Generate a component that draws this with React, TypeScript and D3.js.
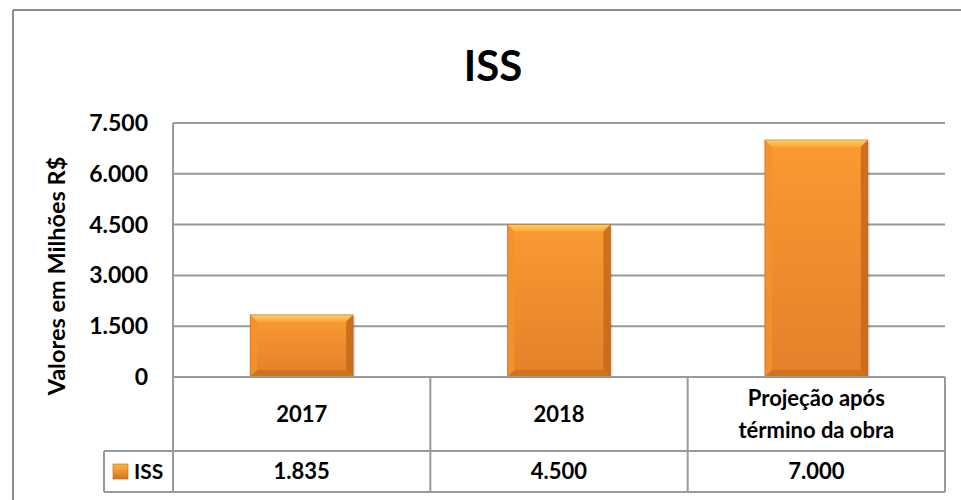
import React from "react";
import * as d3 from "d3";

const categories: string[][] = [["2017"], ["2018"], ["Projeção após", "término da obra"]];
const values: number[] = [1835, 4500, 7000];
const valueLabels: string[] = ["1.835", "4.500", "7.000"];
const yTicks: number[] = [0, 1500, 3000, 4500, 6000, 7500];
const tickLabels: string[] = ["0", "1.500", "3.000", "4.500", "6.000", "7.500"];
const seriesName = "ISS";
const title = "ISS";
const yTitle = "Valores em Milhões R$";

const W = 961;
const H = 500;
const plotLeft = 173;
const plotRight = 945;
const plotTop = 123;
const plotBottom = 377;
const rowDiv = 451;
const tableBottom = 492;
const legendLeft = 104;
const lineColor = "#999999";
const FONT = "Lato, 'Open Sans', sans-serif";

export default function App() {
  const x = d3
    .scaleBand<number>()
    .domain(d3.range(categories.length))
    .range([plotLeft, plotRight])
    .paddingInner(0.6)
    .paddingOuter(0.3);
  const y = d3.scaleLinear().domain([0, 7500]).range([plotBottom, plotTop]);
  const step = x.step();
  const boundaries = d3.range(categories.length + 1).map((i) => plotLeft + i * step);
  const bev = 7;

  return (
    <svg width={W} height={H} style={{ position: "absolute", left: 0, top: 0, background: "#fff" }}>
      <defs>
        <linearGradient id="barGrad" x1="0" y1="0" x2="0" y2="1">
          <stop offset="0" stopColor="#FB9A33" />
          <stop offset="1" stopColor="#E4802A" />
        </linearGradient>
        <linearGradient id="topBev" x1="0" y1="0" x2="0" y2="1">
          <stop offset="0" stopColor="#FFD060" />
          <stop offset="1" stopColor="#FCA73C" />
        </linearGradient>
        <linearGradient id="legGrad" x1="0" y1="0" x2="0" y2="1">
          <stop offset="0" stopColor="#FFB547" />
          <stop offset="1" stopColor="#D7741F" />
        </linearGradient>
      </defs>
      {/* outer border */}
      <line x1={13} y1={10} x2={W} y2={10} stroke="#8c8c8c" strokeWidth={2} />
      <line x1={13} y1={10} x2={13} y2={H} stroke="#8c8c8c" strokeWidth={2} />

      <text x={493} y={81} textAnchor="middle" fontFamily={FONT} fontWeight="bold" fontSize={42} fill="#000">
        {title}
      </text>

      {/* gridlines */}
      {yTicks.map((t, i) => (
        <g key={i}>
          <line x1={plotLeft} x2={plotRight} y1={y(t)} y2={y(t)} stroke={lineColor} strokeWidth={2} />
          <text
            x={148}
            y={y(t)}
            dy="0.35em"
            textAnchor="end"
            fontFamily={FONT}
            fontWeight="bold"
            fontSize={23}
            fill="#000"
          >
            {tickLabels[i]}
          </text>
        </g>
      ))}
      <line x1={plotLeft} x2={plotLeft} y1={plotTop} y2={tableBottom} stroke={lineColor} strokeWidth={2} />

      <text
        transform={`translate(65,${(150 + 402) / 2}) rotate(-90)`}
        textAnchor="middle"
        fontFamily={FONT}
        fontWeight="bold"
        fontSize={23.5}
        fill="#000"
      >
        {yTitle}
      </text>

      {/* bars */}
      {values.map((v, i) => {
        const x0 = x(i)!;
        const bw = x.bandwidth();
        const y0 = y(v);
        const y1 = y(0);
        return (
          <g key={i}>
            <rect x={x0 + 2} y={y0 + 2} width={bw} height={y1 - y0 - 2} fill="#000" opacity={0.12} />
            <rect x={x0} y={y0} width={bw} height={y1 - y0} fill="url(#barGrad)" />
            <polygon
              points={`${x0},${y0} ${x0 + bw},${y0} ${x0 + bw - bev},${y0 + bev} ${x0 + bev},${y0 + bev}`}
              fill="url(#topBev)"
            />
            <polygon
              points={`${x0},${y0} ${x0 + bev},${y0 + bev} ${x0 + bev},${y1 - bev} ${x0},${y1}`}
              fill="#F5902E"
              opacity={0.9}
            />
            <polygon
              points={`${x0 + bw},${y0} ${x0 + bw - bev},${y0 + bev} ${x0 + bw - bev},${y1 - bev} ${x0 + bw},${y1}`}
              fill="#C96A1C"
              opacity={0.9}
            />
            <polygon
              points={`${x0},${y1} ${x0 + bev},${y1 - bev} ${x0 + bw - bev},${y1 - bev} ${x0 + bw},${y1}`}
              fill="#CF6F1F"
              opacity={0.9}
            />
            <rect x={x0} y={y0} width={bw} height={y1 - y0} fill="none" stroke="#A85614" strokeWidth={0.8} opacity={0.6} />
          </g>
        );
      })}

      {/* data table */}
      <line x1={plotLeft} x2={plotRight} y1={plotBottom} y2={plotBottom} stroke={lineColor} strokeWidth={2} />
      <line x1={legendLeft} x2={plotRight} y1={rowDiv} y2={rowDiv} stroke={lineColor} strokeWidth={2} />
      <line x1={legendLeft} x2={plotRight} y1={tableBottom} y2={tableBottom} stroke={lineColor} strokeWidth={2} />
      <line x1={legendLeft} x2={legendLeft} y1={rowDiv} y2={tableBottom} stroke={lineColor} strokeWidth={2} />
      {boundaries.map((bx, i) => (
        <line key={i} x1={bx} x2={bx} y1={plotBottom} y2={tableBottom} stroke={lineColor} strokeWidth={2} />
      ))}
      {categories.map((lines, i) => {
        const cx = x(i)! + x.bandwidth() / 2;
        const cy = (plotBottom + rowDiv) / 2;
        const lh = 32;
        const start = cy - ((lines.length - 1) * lh) / 2;
        return (
          <text key={i} textAnchor="middle" fontFamily={FONT} fontWeight="bold" fontSize={22} fill="#000">
            {lines.map((l, j) => (
              <tspan key={j} x={cx} y={start + j * lh} dy="0.35em">
                {l}
              </tspan>
            ))}
          </text>
        );
      })}
      {valueLabels.map((lab, i) => (
        <text
          key={i}
          x={x(i)! + x.bandwidth() / 2}
          y={(rowDiv + tableBottom) / 2}
          dy="0.35em"
          textAnchor="middle"
          fontFamily={FONT}
          fontWeight="bold"
          fontSize={22}
          fill="#000"
        >
          {lab}
        </text>
      ))}
      <rect x={113} y={464} width={15} height={15} fill="url(#legGrad)" stroke="#B86218" strokeWidth={0.6} />
      <text x={134} y={(rowDiv + tableBottom) / 2} dy="0.35em" fontFamily={FONT} fontWeight="bold" fontSize={21} fill="#000">
        {seriesName}
      </text>
    </svg>
  );
}
